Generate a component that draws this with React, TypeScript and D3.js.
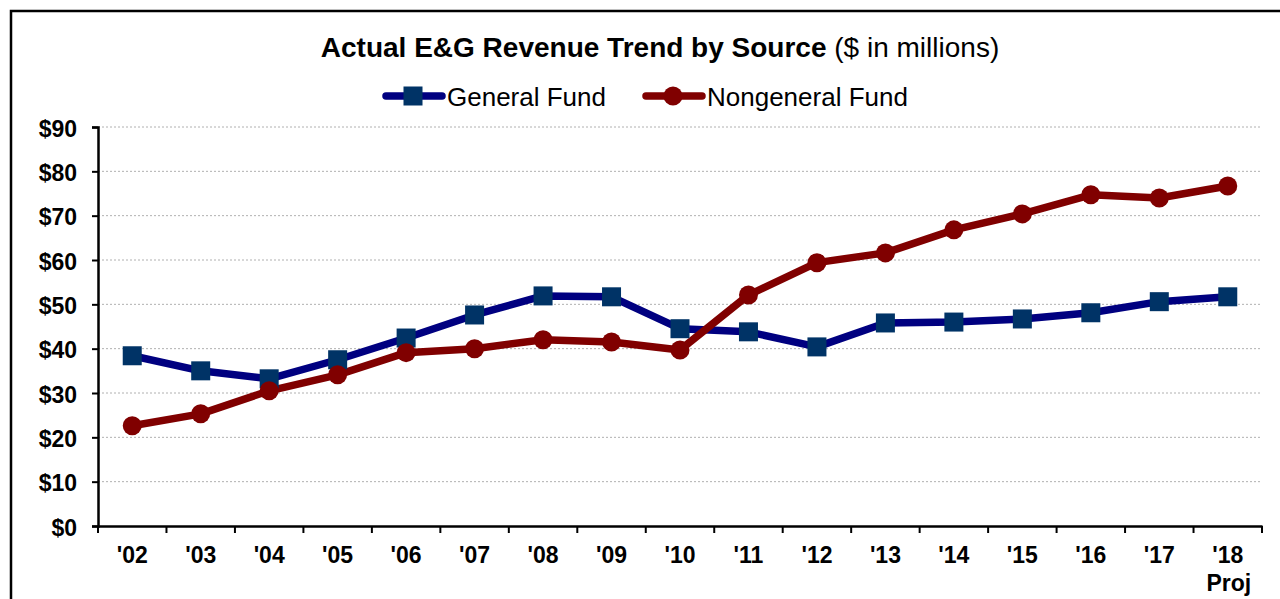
import React, { useRef, useEffect } from 'react'
import * as d3 from 'd3'

const years = ["'02", "'03", "'04", "'05", "'06", "'07", "'08", "'09", "'10", "'11", "'12", "'13", "'14", "'15", "'16", "'17", "'18"]
const generalFund = [38.4, 35.0, 33.2, 37.5, 42.4, 47.6, 51.9, 51.7, 44.5, 43.8, 40.4, 45.8, 46.0, 46.7, 48.1, 50.6, 51.7]
const nongeneralFund = [22.6, 25.3, 30.5, 34.1, 39.1, 40.0, 42.0, 41.5, 39.7, 52.1, 59.4, 61.6, 66.8, 70.4, 74.7, 74.0, 76.7]
const yTicks = [0, 10, 20, 30, 40, 50, 60, 70, 80, 90]

const W = 1280
const H = 599
const FONT = 'Arial, "Liberation Sans", sans-serif'

export default function App() {
  const ref = useRef<SVGSVGElement>(null)

  useEffect(() => {
    const el = ref.current
    if (!el) return
    const svg = d3.select(el)
    svg.selectAll('*').remove()

    const left = 98, right = 1262, top = 127, bottom = 526

    // outer frame
    svg.append('rect').attr('x', 11).attr('y', 11).attr('width', 1300).attr('height', 700)
      .attr('fill', 'white').attr('stroke', '#000').attr('stroke-width', 2.5)

    const x = d3.scaleBand<string>().domain(years).range([left, right])
    const y = d3.scaleLinear().domain([0, 90]).range([bottom, top])
    const cx = (i: number) => (x(years[i]) ?? 0) + x.bandwidth() / 2

    // gridlines
    svg.append('g').selectAll('line').data(yTicks.filter(t => t > 0)).join('line')
      .attr('x1', left).attr('x2', right)
      .attr('y1', d => y(d)).attr('y2', d => y(d))
      .attr('stroke', '#b0b0b0').attr('stroke-width', 1).attr('stroke-dasharray', '2,2')

    // y axis
    const yAxis = d3.axisLeft(y).tickValues(yTicks).tickSize(6).tickFormat(d => `$${d}`)
    const gy = svg.append('g').attr('transform', `translate(${left},0)`).call(yAxis)
    gy.select('.domain').attr('stroke', '#000').attr('stroke-width', 2.5)
    gy.selectAll('.tick line').attr('stroke', '#000').attr('stroke-width', 2)
    gy.selectAll('.tick text').attr('x', -21).attr('dy', '0.4em').attr('font-family', FONT).attr('font-size', 23)
      .attr('font-weight', 'bold').attr('fill', '#000')

    // x axis
    const xAxis = d3.axisBottom(x).tickSize(0).tickFormat(() => '')
    const gx = svg.append('g').attr('transform', `translate(0,${bottom})`).call(xAxis)
    gx.select('.domain').attr('stroke', '#000').attr('stroke-width', 2.5)
    gx.selectAll('.tick').remove()
    svg.append('g').selectAll('line').data([...years.map(d => x(d) ?? 0), right]).join('line')
      .attr('x1', d => d).attr('x2', d => d).attr('y1', bottom).attr('y2', bottom + 7)
      .attr('stroke', '#000').attr('stroke-width', 2)
    svg.append('g').selectAll('text').data(years).join('text')
      .attr('x', (_, i) => cx(i)).attr('y', 563).attr('text-anchor', 'middle')
      .attr('font-family', FONT).attr('font-size', 23).attr('font-weight', 'bold').text(d => d)
    svg.append('text').attr('x', cx(years.length - 1) + 1).attr('y', 591).attr('text-anchor', 'middle')
      .attr('font-family', FONT).attr('font-size', 23).attr('font-weight', 'bold').text('Proj')

    // lines
    const line = d3.line<number>().x((_, i) => cx(i)).y(d => y(d))
    svg.append('path').datum(generalFund).attr('d', line).attr('fill', 'none')
      .attr('stroke', '#000080').attr('stroke-width', 7.5).attr('stroke-linejoin', 'round')
    svg.append('path').datum(nongeneralFund).attr('d', line).attr('fill', 'none')
      .attr('stroke', '#800000').attr('stroke-width', 7.5).attr('stroke-linejoin', 'round')

    svg.append('g').selectAll('rect').data(generalFund).join('rect')
      .attr('x', (_, i) => cx(i) - 9.5).attr('y', d => y(d) - 9.5)
      .attr('width', 19).attr('height', 19).attr('fill', '#003366')
    svg.append('g').selectAll('circle').data(nongeneralFund).join('circle')
      .attr('cx', (_, i) => cx(i)).attr('cy', d => y(d)).attr('r', 9.5).attr('fill', '#800000')

    // title
    const title = svg.append('text').attr('x', 660).attr('y', 57).attr('text-anchor', 'middle')
      .attr('font-family', FONT).attr('font-size', 28)
    title.append('tspan').attr('font-weight', 'bold').text('Actual E&G Revenue Trend by Source')
    title.append('tspan').text(' ($ in millions)')

    // legend
    const legend = [
      { name: 'General Fund', color: '#000080', marker: '#003366', x0: 386, shape: 'square' },
      { name: 'Nongeneral Fund', color: '#800000', marker: '#800000', x0: 646, shape: 'circle' },
    ]
    const ly = 96
    legend.forEach(l => {
      const g = svg.append('g')
      g.append('line').attr('x1', l.x0).attr('x2', l.x0 + 56).attr('y1', ly).attr('y2', ly)
        .attr('stroke', l.color).attr('stroke-width', 7.5).attr('stroke-linecap', 'round')
      if (l.shape === 'square') {
        g.append('rect').attr('x', l.x0 + 27 - 9.5).attr('y', ly - 9.5).attr('width', 19).attr('height', 19).attr('fill', l.marker)
      } else {
        g.append('circle').attr('cx', l.x0 + 27).attr('cy', ly).attr('r', 9.5).attr('fill', l.marker)
      }
      g.append('text').attr('x', l.x0 + 61).attr('y', 106).attr('font-family', FONT)
        .attr('font-size', 26).text(l.name)
    })
  }, [])

  return (
    <svg ref={ref} width={W} height={H} style={{ position: 'absolute', left: 0, top: 0, display: 'block' }} />
  )
}
